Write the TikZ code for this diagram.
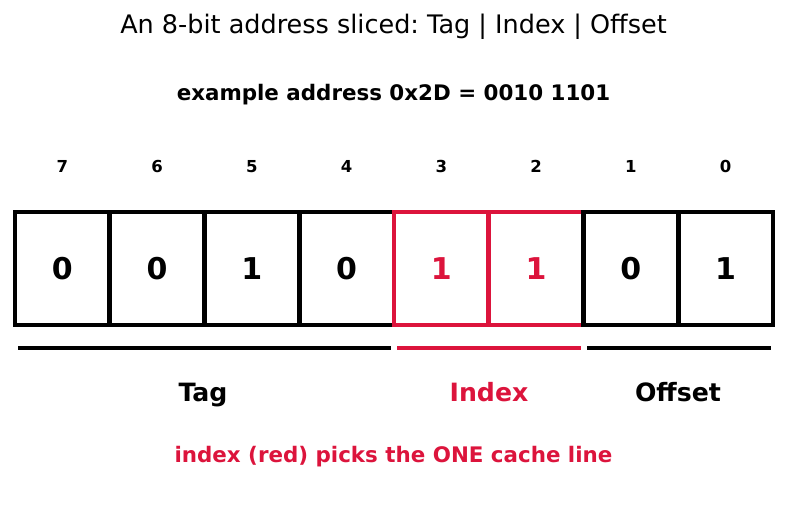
\documentclass[tikz,border=0pt]{standalone}
\usepackage{fontspec}
\setmainfont{DejaVu Sans}
\usetikzlibrary{positioning}
\definecolor{idxred}{HTML}{DC143C}
\frenchspacing

\begin{document}
\begin{tikzpicture}[
  x=1pt, y=-1pt,
  cell/.style   = {draw, line width=4.7pt, minimum width=94.75pt,
                   minimum height=113pt, inner sep=0pt,
                   font=\fontsize{30}{30}\selectfont\bfseries},
  bitno/.style  = {anchor=base, font=\fontsize{16.5}{17}\selectfont\bfseries},
  part/.style   = {anchor=base, font=\fontsize{25.2}{26}\selectfont\bfseries},
  bar/.style    = {line width=4.7pt},
]
  \useasboundingbox (0,0) rectangle (787,520);
  \node[anchor=base, font=\fontsize{25.5}{26}\selectfont] (title) at (393.5,33)
    {An 8-bit address sliced: Tag | Index | Offset};
  \node[anchor=base, font=\fontsize{21.4}{22}\selectfont\bfseries] (sub) at (393.5,100)
    {example address 0x2D = 0010 1101};
  % one cell per bit, MSB on the left
  \foreach \val/\col [count=\k from 0] in
      {0/black,0/black,1/black,0/black,1/idxred,1/idxred,0/black,1/black} {
    \pgfmathtruncatemacro\bit{7-\k}
    \node[cell, draw=\col, text=\col] (cell\bit) at (62.375+94.75*\k,268.5) {\val};
    \node[bitno] (bitno\bit) at (62.375+94.75*\k,172) {\bit};
  }
  % field bars
  \coordinate (tagL) at (18,348);   \coordinate (tagR) at (391,348);
  \coordinate (idxL) at (397,348);  \coordinate (idxR) at (581,348);
  \coordinate (offL) at (587,348);  \coordinate (offR) at (771,348);
  \draw[bar] (tagL) -- (tagR);
  \draw[bar, idxred] (idxL) -- (idxR);
  \draw[bar] (offL) -- (offR);
  \node[part] (tag) at (203,401) {Tag};
  \node[part, idxred] (index) at (489,401) {Index};
  \node[part] (offset) at (678,401) {Offset};
  \node[anchor=base, font=\fontsize{21.4}{22}\selectfont\bfseries, idxred] (note)
    at (393.5,462) {index (red) picks the ONE cache line};
\end{tikzpicture}
\end{document}
